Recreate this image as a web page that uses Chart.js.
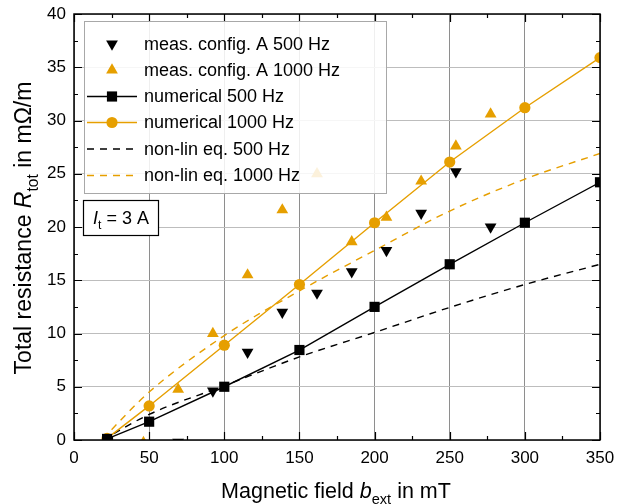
<!DOCTYPE html>
<html>
<head>
<meta charset="utf-8">
<script src="https://cdn.jsdelivr.net/npm/chart.js@4"></script>
<style>
  html, body { margin: 0; padding: 0; background: #fff; }
  #wrap { width: 636px; height: 504px; }
</style>
</head>
<body>
<div id="wrap"><canvas id="chart" width="636" height="504"></canvas></div>
<script>
// measured values (config. A)
const measX = [46.2, 69.3, 92.4, 115.5, 138.6, 161.7, 184.8, 207.9, 231.0, 254.1, 277.2];
const meas500 = [null, -0.2, 4.6, 8.25, 12.0, 13.8, 15.8, 17.8, 21.3, 25.2, 20.0];
const meas1000 = [-0.25, 4.75, 10.0, 15.5, 21.6, 25.0, 18.6, 20.9, 24.3, 27.6, 30.6];

// numerical model
const numX = [22, 50, 100, 150, 200, 250, 300, 350];
const num500 = [0.1, 1.72, 5.0, 8.45, 12.5, 16.5, 20.4, 24.2];
const num1000 = [0.15, 3.2, 8.9, 14.6, 20.4, 26.1, 31.2, 35.9];

// non-linear equation
const nlX = [19, 50, 100, 150, 200, 250, 300, 350];
const nl500 = [0, 2.4, 5.1, 7.8, 10.1, 12.45, 14.6, 16.5];
const nl1000 = [0.1, 4.5, 9.8, 14.0, 17.8, 21.5, 24.5, 26.9];

const xTicks = [0, 50, 100, 150, 200, 250, 300, 350];
const yTicks = [0, 5, 10, 15, 20, 25, 30, 35, 40];

const legendLabels = [
  'meas. config. A 500 Hz',
  'meas. config. A 1000 Hz',
  'numerical 500 Hz',
  'numerical 1000 Hz',
  'non-lin eq. 500 Hz',
  'non-lin eq. 1000 Hz'
];

const ORANGE = '#E69F00';
const FONT = '"Liberation Sans", Arial, sans-serif';

function pts(xs, ys) {
  return xs.map((x, i) => ({ x: x, y: ys[i] })).filter(p => p.y !== null);
}

// draw text made of runs: [text, italic, sub]
function drawRuns(ctx, runs, size, cx, cy) {
  const widths = runs.map(r => {
    ctx.font = (r[1] ? 'italic ' : '') + (r[2] ? size * 0.68 : size) + 'px ' + FONT;
    return ctx.measureText(r[0]).width;
  });
  const total = widths.reduce((a, b) => a + b, 0);
  let x = cx - total / 2;
  ctx.textAlign = 'left';
  ctx.textBaseline = 'alphabetic';
  runs.forEach((r, i) => {
    ctx.font = (r[1] ? 'italic ' : '') + (r[2] ? size * 0.68 : size) + 'px ' + FONT;
    ctx.fillText(r[0], x, cy + (r[2] ? size * 0.3 : 0));
    x += widths[i];
  });
}

const extras = {
  id: 'extras',
  afterDatasetsDraw(chart) {
    const ctx = chart.ctx;
    const a = chart.chartArea;
    const xs = chart.scales.x, ys = chart.scales.y;
    ctx.save();

    // frame + inner ticks
    ctx.strokeStyle = '#000';
    ctx.lineWidth = 1.5;
    ctx.strokeRect(a.left, a.top, a.right - a.left, a.bottom - a.top);
    ctx.lineWidth = 1.2;
    ctx.beginPath();
    for (let v = 0; v <= 350; v += 25) {
      const px = Math.round(xs.getPixelForValue(v)) + 0.5;
      const len = v % 50 === 0 ? 8 : 4;
      ctx.moveTo(px, a.bottom); ctx.lineTo(px, a.bottom - len);
      ctx.moveTo(px, a.top); ctx.lineTo(px, a.top + len);
    }
    for (let v = 0; v <= 40; v += 2.5) {
      const py = Math.round(ys.getPixelForValue(v)) + 0.5;
      const len = v % 5 === 0 ? 8 : 4;
      ctx.moveTo(a.left, py); ctx.lineTo(a.left + len, py);
      ctx.moveTo(a.right, py); ctx.lineTo(a.right - len, py);
    }
    ctx.stroke();

    // legend box
    const lx = 84, ly = 21, lw = 302, lh = 172;
    ctx.fillStyle = 'rgba(255,255,255,0.86)';
    ctx.fillRect(lx, ly, lw, lh);
    ctx.strokeStyle = '#a8a8a8';
    ctx.lineWidth = 1;
    ctx.strokeRect(lx + 0.5, ly + 0.5, lw, lh);

    const rowY = [44, 70, 96.5, 122.5, 149, 175.5];
    const symCx = 112, x0 = 87, x1 = 137;
    chart.data.datasets.forEach((ds, i) => {
      const y = rowY[i];
      if (ds.showLine) {
        ctx.save();
        ctx.strokeStyle = ds.borderColor;
        ctx.lineWidth = ds.borderWidth;
        ctx.setLineDash(ds.borderDash || []);
        ctx.beginPath();
        ctx.moveTo(x0, y); ctx.lineTo(x1, y);
        ctx.stroke();
        ctx.restore();
      }
      if (ds.pointRadius > 0) {
        ctx.fillStyle = ds.pointBackgroundColor;
        ctx.strokeStyle = ds.pointBackgroundColor;
        Chart.helpers.drawPoint(ctx, {
          pointStyle: ds.pointStyle, rotation: ds.rotation || 0,
          radius: ds.pointRadius, borderWidth: 0
        }, symCx, y);
      }
      ctx.fillStyle = '#000';
      ctx.font = '18px ' + FONT;
      ctx.textAlign = 'left';
      ctx.textBaseline = 'middle';
      ctx.fillText(legendLabels[i], 144, y + 1);
    });

    // current label box
    ctx.fillStyle = '#fff';
    ctx.fillRect(83, 200, 75, 35);
    ctx.strokeStyle = '#000';
    ctx.lineWidth = 1.2;
    ctx.strokeRect(83.5, 200.5, 75, 35);
    ctx.fillStyle = '#000';
    drawRuns(ctx, [['I', true, false], ['t', false, true], [' = 3 A', false, false]], 18, 121, 224);

    // axis titles
    drawRuns(ctx, [['Magnetic field ', false, false], ['b', true, false], ['ext', false, true], [' in mT', false, false]], 21.5, 336, 498);
    ctx.translate(31, 228);
    ctx.rotate(-Math.PI / 2);
    drawRuns(ctx, [['Total resistance ', false, false], ['R', true, false], ['tot', false, true], [' in m\u03A9/m', false, false]], 23, 0, 0);
    ctx.restore();
  }
};

new Chart(document.getElementById('chart'), {
  type: 'scatter',
  data: {
    datasets: [
      { label: legendLabels[0], data: pts(measX, meas500), showLine: false,
        pointStyle: 'triangle', rotation: 180, pointRadius: 6.8,
        pointBackgroundColor: '#000', pointBorderWidth: 0, borderColor: '#000' },
      { label: legendLabels[1], data: pts(measX, meas1000), showLine: false,
        pointStyle: 'triangle', pointRadius: 6.8,
        pointBackgroundColor: ORANGE, pointBorderWidth: 0, borderColor: ORANGE },
      { label: legendLabels[2], data: pts(numX, num500), showLine: true,
        pointStyle: 'rect', pointRadius: 7.2, borderWidth: 1.4,
        pointBackgroundColor: '#000', pointBorderWidth: 0, borderColor: '#000' },
      { label: legendLabels[3], data: pts(numX, num1000), showLine: true,
        pointStyle: 'circle', pointRadius: 5.6, borderWidth: 1.4,
        pointBackgroundColor: ORANGE, pointBorderWidth: 0, borderColor: ORANGE },
      { label: legendLabels[4], data: pts(nlX, nl500), showLine: true,
        pointRadius: 0, borderWidth: 1.4, borderDash: [7, 6],
        cubicInterpolationMode: 'monotone', borderColor: '#000' },
      { label: legendLabels[5], data: pts(nlX, nl1000), showLine: true,
        pointRadius: 0, borderWidth: 1.4, borderDash: [7, 6],
        cubicInterpolationMode: 'monotone', borderColor: ORANGE }
    ]
  },
  options: {
    responsive: false,
    animation: false,
    clip: 0,
    layout: { padding: { top: 14, right: 36, left: 0, bottom: 0 } },
    plugins: { legend: { display: false }, tooltip: { enabled: false } },
    scales: {
      x: {
        min: 0, max: 350,
        afterFit(s) { s.height = 64; s.paddingLeft = 0; s.paddingRight = 0; },
        afterBuildTicks(s) { s.ticks = xTicks.map(v => ({ value: v })); },
        ticks: { color: '#000', font: { size: 17, family: FONT }, padding: 8, maxRotation: 0 },
        grid: { color: '#8e8e8e', lineWidth: 1, drawTicks: false },
        border: { display: false }
      },
      y: {
        min: 0, max: 40,
        afterFit(s) { s.width = 74; s.paddingTop = 0; s.paddingBottom = 0; },
        afterBuildTicks(s) { s.ticks = yTicks.map(v => ({ value: v })); },
        ticks: { color: '#000', font: { size: 17, family: FONT }, padding: 8 },
        grid: { color: '#bdbdbd', lineWidth: 1, drawTicks: false },
        border: { display: false }
      }
    }
  },
  plugins: [extras]
});
</script>
</body>
</html>
